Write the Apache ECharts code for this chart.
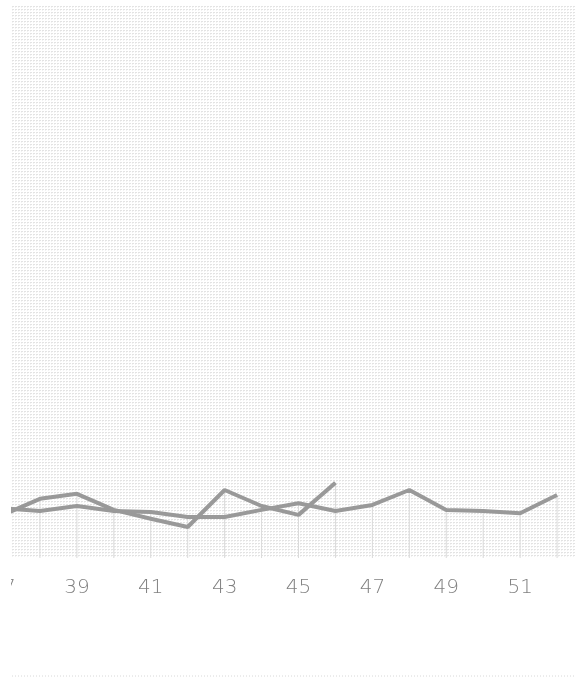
<!DOCTYPE html>
<html>
<head>
<meta charset="utf-8">
<script src="https://cdn.jsdelivr.net/npm/echarts@6/dist/echarts.min.js"></script>
<style>
html,body{margin:0;padding:0;background:#fff;width:576px;height:677px;overflow:hidden;}
#clip{position:absolute;left:11px;top:0;width:565px;height:677px;overflow:hidden;}
#chart{position:absolute;left:-11px;top:0;width:620px;height:677px;}
</style>
</head>
<body>
<div id="clip"><div id="chart"></div></div>
<script>
// Categories (x values)
const categories = ['37','38','39','40','41','42','43','44','45','46','47','48','49','50','51','52','53'];
// Series values
const seriesA = [7.8, 10.7, 11.6, 8.7, 7.1, 5.6, 12.3, 9.4, 7.8, 13.6, null, null, null, null, null, null, null];
const seriesB = [9.0, 8.5, 9.4, 8.5, 8.3, 7.4, 7.4, 8.7, 9.9, 8.5, 9.6, 12.3, 8.7, 8.5, 8.1, 11.4, null];
// Drop lines reach the highest point at each category
const dropValues = categories.map((c, i) => {
  const a = seriesA[i], b = seriesB[i];
  if (a == null && b == null) return null;
  return Math.max(a == null ? -Infinity : a, b == null ? -Infinity : b);
});

// dotted background pattern
const pc = document.createElement('canvas');
pc.width = 3; pc.height = 3;
const pctx = pc.getContext('2d');
pctx.fillStyle = '#ffffff';
pctx.fillRect(0, 0, 3, 3);
pctx.fillStyle = '#e3e3e3';
pctx.fillRect(0, 0, 2, 1);
pctx.fillStyle = '#f2f2f2';
pctx.fillRect(0, 1, 1, 1);

const chart = echarts.init(document.getElementById('chart'), null, {renderer: 'canvas'});
chart.setOption({
  animation: false,
  grid: {
    left: 3, right: 26, top: 5, bottom: 119,
    outerBoundsMode: 'none',
    containLabel: false,
    show: true, borderWidth: 0,
    backgroundColor: {image: pc, repeat: 'repeat'}
  },
  xAxis: {
    type: 'category',
    data: categories,
    boundaryGap: false,
    axisLine: {show: false},
    axisTick: {show: false},
    splitLine: {show: false},
    axisLabel: {
      interval: 1,
      margin: 20,
      fontSize: 20,
      fontFamily: 'DejaVu Sans',
      fontWeight: 200,
      color: '#808080'
    }
  },
  yAxis: {
    type: 'value', min: 0, max: 100,
    show: false,
    splitLine: {show: false}
  },
  graphic: [{
    type: 'line',
    shape: {x1: 0, y1: 676, x2: 620, y2: 676},
    style: {stroke: '#d8d8d8', lineWidth: 1, lineDash: [1, 2]}
  }],
  series: [
    {
      type: 'bar',
      data: dropValues,
      barWidth: 1,
      itemStyle: {color: '#dadada'},
      silent: true
    },
    {
      type: 'line',
      data: seriesA,
      symbol: 'none',
      connectNulls: false,
      lineStyle: {color: '#999999', width: 4}
    },
    {
      type: 'line',
      data: seriesB,
      symbol: 'none',
      lineStyle: {color: '#999999', width: 4}
    }
  ]
});
</script>
</body>
</html>
